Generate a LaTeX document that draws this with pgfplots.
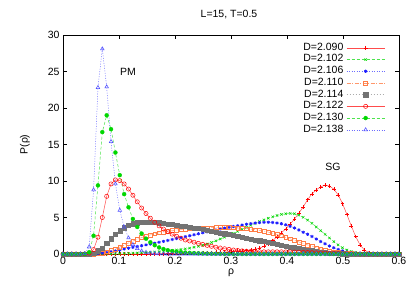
\documentclass[border=0pt]{standalone}
\usepackage{fontspec}
\setmainfont{Liberation Sans}
\usepackage{pgfplots}
\usepackage{pgfplotstable}
\pgfplotsset{compat=1.18}
\definecolor{cred}{RGB}{255,0,0}
\definecolor{cgreen}{RGB}{0,215,0}
\definecolor{cblue}{RGB}{30,30,255}
\definecolor{corange}{RGB}{255,125,70}
\definecolor{cgray}{RGB}{115,115,115}
\pgfplotstableread{
x a b c d e f g h
0 0 0 0 0 0 0 0 0
0.0078 0 0 0 0 0 0 0 0
0.0156 0 0 0 0 0 0 0 0
0.0234 0 0 0 0 0 0 0 0
0.0312 0 0 0 0 0 0 0 0
0.039 0 0 0 0 0 0.02 0.02 0.05
0.0468 0 0 0 0 0.03 0.12 0.25 1.00
0.0546 0 0 0.02 0.01 0.15 0.60 2.50 8.80
0.0624 0 0 0.06 0.05 0.45 2.30 9.40 22.80
0.0702 0 0 0.12 0.15 0.85 5.00 16.70 28.10
0.078 0 0.01 0.20 0.30 1.45 7.90 19.00 22.90
0.0858 0 0.02 0.30 0.48 2.10 9.60 17.10 15.40
0.0936 0 0.03 0.42 0.70 2.70 10.15 13.90 9.60
0.1014 0 0.05 0.55 0.95 3.20 10.05 10.80 6.00
0.1092 0 0.07 0.68 1.22 3.60 9.60 8.20 3.70
0.117 0 0.09 0.80 1.50 3.92 8.90 6.40 2.20
0.1248 0 0.12 0.92 1.77 4.15 8.05 4.80 1.30
0.1326 0 0.15 1.03 2.02 4.30 7.15 3.70 0.75
0.1404 0 0.18 1.14 2.25 4.38 6.30 2.80 0.42
0.1482 0 0.21 1.25 2.45 4.40 5.55 2.10 0.23
0.156 0 0.25 1.37 2.62 4.40 4.90 1.60 0.12
0.1638 0.02 0.29 1.49 2.77 4.36 4.35 1.20 0.06
0.1716 0.03 0.33 1.61 2.90 4.30 3.85 0.90 0.03
0.1794 0.04 0.38 1.73 3.01 4.22 3.42 0.68 0.01
0.1872 0.05 0.43 1.86 3.11 4.13 3.05 0.52 0
0.195 0.06 0.49 1.99 3.20 4.04 2.72 0.40 0
0.2028 0.07 0.55 2.12 3.28 3.95 2.43 0.31 0
0.2106 0.08 0.62 2.25 3.35 3.86 2.16 0.24 0
0.2184 0.09 0.70 2.38 3.41 3.77 1.92 0.19 0
0.2262 0.10 0.80 2.51 3.46 3.68 1.78 0.15 0
0.234 0.12 0.92 2.64 3.50 3.59 1.62 0.12 0
0.2418 0.14 1.05 2.77 3.53 3.49 1.46 0.09 0
0.2496 0.16 1.20 2.90 3.56 3.39 1.32 0.07 0
0.2574 0.18 1.38 3.03 3.58 3.27 1.18 0.05 0
0.2652 0.20 1.58 3.16 3.60 3.15 1.05 0.04 0
0.273 0.22 1.80 3.29 3.61 3.03 0.93 0.03 0
0.2808 0.25 2.05 3.41 3.62 2.91 0.82 0.02 0
0.2886 0.28 2.30 3.53 3.62 2.79 0.72 0.01 0
0.2964 0.30 2.56 3.65 3.61 2.67 0.63 0 0
0.3042 0.33 2.82 3.76 3.59 2.55 0.55 0 0
0.312 0.36 3.10 3.87 3.56 2.43 0.48 0 0
0.3198 0.41 3.38 3.97 3.52 2.31 0.43 0 0
0.3276 0.47 3.66 4.07 3.47 2.19 0.38 0 0
0.3354 0.55 3.93 4.16 3.41 2.07 0.35 0 0
0.3432 0.65 4.20 4.24 3.33 1.95 0.33 0 0
0.351 0.80 4.45 4.30 3.24 1.83 0.31 0 0
0.3588 1.05 4.68 4.34 3.13 1.71 0.30 0 0
0.3666 1.40 4.90 4.35 3.00 1.59 0.30 0 0
0.3744 1.85 5.10 4.32 2.85 1.47 0.30 0 0
0.3822 2.35 5.28 4.25 2.68 1.35 0.30 0 0
0.39 2.90 5.42 4.15 2.49 1.23 0.30 0 0
0.3978 3.45 5.52 4.00 2.28 1.11 0.29 0 0
0.4056 4.10 5.55 3.80 2.08 0.99 0.28 0 0
0.4134 4.80 5.50 3.57 1.87 0.87 0.27 0 0
0.4212 5.60 5.32 3.30 1.66 0.76 0.25 0 0
0.429 6.45 5.02 2.98 1.45 0.65 0.23 0 0
0.4368 7.45 4.65 2.70 1.25 0.55 0.21 0 0
0.4446 8.25 4.20 2.40 1.05 0.45 0.19 0 0
0.4524 8.80 3.70 2.05 0.86 0.36 0.16 0 0
0.4602 9.20 3.20 1.70 0.68 0.28 0.14 0 0
0.468 9.45 2.70 1.40 0.53 0.21 0.12 0 0
0.4758 9.30 2.20 1.10 0.40 0.15 0.10 0 0
0.4836 8.90 1.70 0.85 0.29 0.10 0.08 0 0
0.4914 8.10 1.25 0.62 0.20 0.07 0.06 0 0
0.4992 6.90 0.85 0.43 0.13 0.04 0.04 0 0
0.507 5.40 0.55 0.28 0.08 0.02 0.03 0 0
0.5148 3.85 0.35 0.18 0.05 0.01 0.02 0 0
0.5226 2.40 0.20 0.11 0.03 0 0.01 0 0
0.5304 1.25 0.10 0.06 0.01 0 0 0 0
0.5382 0.55 0.05 0.03 0 0 0 0 0
0.546 0.20 0.02 0.01 0 0 0 0 0
0.5538 0.06 0.01 0 0 0 0 0 0
0.5616 0.02 0 0 0 0 0 0 0
0.5694 0 0 0 0 0 0 0 0
0.5772 0 0 0 0 0 0 0 0
0.585 0 0 0 0 0 0 0 0
0.5928 0 0 0 0 0 0 0 0
0.6 0 0 0 0 0 0 0 0
}\data
\begin{document}
\begin{tikzpicture}
\path[use as bounding box] (0,0) rectangle (415bp,291bp);
\begin{axis}[
  at={(63bp,37bp)}, anchor=south west,
  scale only axis, width=336bp, height=219bp,
  xmin=0, xmax=0.6, ymin=0, ymax=30,
  xtick={0,0.1,...,0.6}, ytick={0,5,...,30},
  xticklabels={0,0.1,0.2,0.3,0.4,0.5,0.6},
  tick align=inside, major tick length=4bp,
  axis line style={line width=0.7bp},
  every tick/.style={line width=0.6bp, black},
  clip=false,
  /pgf/number format/assume math mode=true,
  tick label style={font=\fontsize{10.5bp}{12bp}\selectfont},
  xlabel={ρ}, ylabel={P(ρ)},
  label style={font=\fontsize{10.5bp}{12bp}\selectfont},
  xlabel style={at={(axis description cs:0.5,-0.087)}, anchor=center},
  ylabel style={at={(axis description cs:-0.113,0.5)}, anchor=center},
  legend style={draw=none, fill=none, at={(rel axis cs:0.958,0.968)}, anchor=north east,
    font=\fontsize{10.5bp}{12bp}\selectfont, inner sep=0pt, outer sep=0pt,
    row sep=0pt, column sep=3bp,
    nodes={inner sep=0pt, text height=8.2bp, text depth=3.5bp}},
  legend cell align=right,
  legend plot pos=right,
  legend image code/.code={\draw[mark repeat=2,mark phase=2,#1] plot coordinates {(0bp,0bp) (19bp,0bp) (38bp,0bp)};},
]
\addplot[color=cred!70, line width=0.5bp, mark=+, mark size=1.9bp, mark options={solid, draw=cred, line width=0.5bp}] table[x=x,y=a]{\data};
\addlegendentry{D=2.090}
\addplot[color=cgreen!70, line width=0.5bp, dash pattern=on 3bp off 2bp, mark=x, mark size=1.7bp, mark options={solid, draw=cgreen, line width=0.5bp}] table[x=x,y=b]{\data};
\addlegendentry{D=2.102}
\addplot[color=cblue!65, line width=0.5bp, dash pattern=on 1bp off 1.5bp, mark=asterisk, mark size=1.6bp, mark options={solid, draw=cblue, line width=0.8bp}] table[x=x,y=c]{\data};
\addlegendentry{D=2.106}
\addplot[color=corange!80, line width=0.5bp, dash pattern=on 4bp off 1.5bp on 1bp off 1.5bp, mark=square, mark size=1.9bp, mark options={solid, draw=corange, line width=0.5bp}] table[x=x,y=d]{\data};
\addlegendentry{D=2.110}
\addplot[color=cgray!60, line width=0.5bp, dash pattern=on 1bp off 2bp, mark=square*, mark size=2.1bp, mark options={solid, draw=cgray, fill=cgray, line width=0.3bp}] table[x=x,y=e]{\data};
\addlegendentry{D=2.114}
\addplot[color=cred!70, line width=0.5bp, mark=o, mark size=2.1bp, mark options={solid, draw=cred, line width=0.5bp}] table[x=x,y=f]{\data};
\addlegendentry{D=2.122}
\addplot[color=cgreen!70, line width=0.5bp, dash pattern=on 3bp off 2bp, mark=*, mark size=2bp, mark options={solid, draw=cgreen, fill=cgreen, line width=0.3bp}] table[x=x,y=g]{\data};
\addlegendentry{D=2.130}
\addplot[color=cblue!65, line width=0.5bp, dash pattern=on 1bp off 1.5bp, mark=triangle, mark size=2.1bp, mark options={solid, draw=cblue!80, line width=0.5bp}] table[x=x,y=h]{\data};
\addlegendentry{D=2.138}
\node[font=\fontsize{10.5bp}{12bp}\selectfont] at (axis cs:0.116,24.9) {PM};
\node[font=\fontsize{10.5bp}{12bp}\selectfont] at (axis cs:0.482,11.9) {SG};
\end{axis}
\node[font=\fontsize{10.5bp}{12bp}\selectfont] at (229bp,276bp) {L=15, T=0.5};
\end{tikzpicture}
\end{document}
